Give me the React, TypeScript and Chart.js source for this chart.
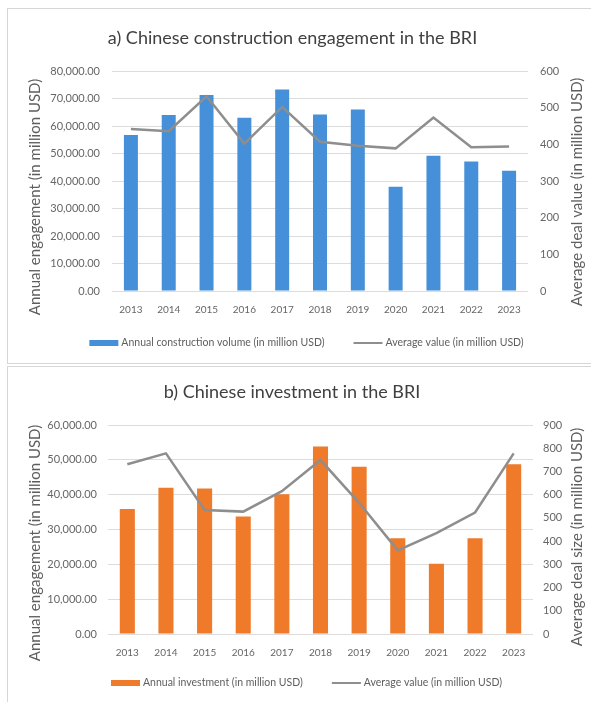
import React, { useEffect, useRef } from 'react';
import { Chart, registerables } from 'chart.js';

Chart.register(...registerables);

// Years on the category axis (shared by both panels)
const years = ['2013', '2014', '2015', '2016', '2017', '2018', '2019', '2020', '2021', '2022', '2023'];

// a) Construction engagement
const constructionVolume = [56700, 64000, 71300, 63000, 73300, 64200, 66000, 37900, 49200, 47100, 43700];
const constructionAvgValue = [442, 436, 531, 402, 502, 407, 396, 389, 473, 392, 394];

// b) Investment
const investmentVolume = [35900, 42000, 41800, 33700, 40100, 53800, 48000, 27500, 20200, 27500, 48700];
const investmentAvgSize = [731, 778, 534, 527, 615, 749, 565, 360, 434, 523, 778];

const FONT = 'Lato, "Open Sans", sans-serif';
const TICK_COLOR = '#666666';
const TEXT_COLOR = '#5e5e5e';
const TITLE_COLOR = '#404040';
const GRID_COLOR = '#dcdcdc';
const LINE_COLOR = '#8e8e8e';

type AxisTitle = { text: string; x: number; y: number };

type DecorOptions = {
  title: string;
  titleX: number;
  titleY: number;
  axisTitles: AxisTitle[];
  legendX: number;
  legendY: number;
};

// Panel heading, rotated axis titles and the legend row, drawn on the chart canvas.
const panelDecor = {
  id: 'panelDecor',
  afterDraw(chart: any, _args: any, opts: DecorOptions) {
    const ctx: CanvasRenderingContext2D = chart.ctx;
    ctx.save();

    ctx.font = `normal 18px ${FONT}`;
    ctx.fillStyle = TITLE_COLOR;
    ctx.textAlign = 'center';
    ctx.textBaseline = 'middle';
    ctx.fillText(opts.title, opts.titleX, opts.titleY);

    ctx.font = `normal 15px ${FONT}`;
    ctx.fillStyle = TEXT_COLOR;
    for (const t of opts.axisTitles) {
      ctx.save();
      ctx.translate(t.x, t.y);
      ctx.rotate(-Math.PI / 2);
      ctx.fillText(t.text, 0, 0);
      ctx.restore();
    }

    const boxW = 29;
    const boxGap = 3;
    const itemGap = 29;
    ctx.font = `normal 10.5px ${FONT}`;
    ctx.textAlign = 'left';
    const datasets = chart.data.datasets;
    const widths = datasets.map((ds: any) => ctx.measureText(ds.label).width);
    const total =
      widths.reduce((s: number, w: number) => s + boxW + boxGap + w, 0) + itemGap * (datasets.length - 1);
    let x = opts.legendX - total / 2;
    const y = opts.legendY;
    datasets.forEach((ds: any, i: number) => {
      if (ds.type === 'bar') {
        ctx.fillStyle = ds.backgroundColor;
        ctx.fillRect(x, y - 3, boxW, 6);
      } else {
        ctx.strokeStyle = ds.borderColor;
        ctx.lineWidth = 2;
        ctx.beginPath();
        ctx.moveTo(x, y);
        ctx.lineTo(x + boxW, y);
        ctx.stroke();
      }
      x += boxW + boxGap;
      ctx.fillStyle = TEXT_COLOR;
      ctx.fillText(ds.label, x, y);
      x += widths[i] + itemGap;
    });

    ctx.restore();
  },
};

type PanelSpec = {
  top: number;
  height: number;
  decor: DecorOptions;
  barLabel: string;
  lineLabel: string;
  barColor: string;
  bars: number[];
  line: number[];
  leftMax: number;
  rightMax: number;
  barPct: number;
  pad: { left: number; right: number; top: number; bottom: number };
  leftW: number;
  rightW: number;
  xH: number;
  leftTickPad: number;
  rightTickPad: number;
};

const fmtThousands = (v: number) =>
  Number(v).toLocaleString('en-US', { minimumFractionDigits: 2, maximumFractionDigits: 2 });

function ChartPanel({ spec }: { spec: PanelSpec }) {
  const ref = useRef<HTMLCanvasElement | null>(null);

  useEffect(() => {
    if (!ref.current) return;
    const chart = new Chart(ref.current, {
      type: 'bar',
      data: {
        labels: years,
        datasets: [
          {
            type: 'bar',
            label: spec.barLabel,
            data: spec.bars,
            backgroundColor: spec.barColor,
            borderWidth: 0,
            yAxisID: 'y',
            order: 2,
            barPercentage: spec.barPct,
            categoryPercentage: 1,
          },
          {
            type: 'line',
            label: spec.lineLabel,
            data: spec.line,
            borderColor: LINE_COLOR,
            backgroundColor: LINE_COLOR,
            borderWidth: 2.5,
            pointRadius: 0,
            tension: 0,
            yAxisID: 'y1',
            order: 1,
          },
        ],
      } as any,
      plugins: [panelDecor],
      options: {
        responsive: false,
        animation: false,
        layout: { padding: spec.pad },
        plugins: {
          tooltip: { enabled: false },
          title: { display: false },
          legend: { display: false },
          panelDecor: spec.decor,
        },
        scales: {
          x: {
            grid: { display: false, drawTicks: false },
            border: { display: false },
            ticks: { color: TICK_COLOR, font: { family: FONT, size: 10 }, padding: 13, maxRotation: 0 },
            afterFit: (s: any) => {
              s.height = spec.xH;
            },
          },
          y: {
            position: 'left',
            min: 0,
            max: spec.leftMax,
            grid: { color: GRID_COLOR, lineWidth: 1, drawTicks: false },
            border: { display: false },
            ticks: {
              stepSize: 10000,
              color: TICK_COLOR,
              font: { family: FONT, size: 11 },
              padding: spec.leftTickPad,
              callback: (v: any) => fmtThousands(v),
            },
            afterFit: (s: any) => {
              s.width = spec.leftW;
            },
          },
          y1: {
            position: 'right',
            min: 0,
            max: spec.rightMax,
            grid: { display: false, drawTicks: false },
            border: { display: false },
            ticks: {
              stepSize: 100,
              color: TICK_COLOR,
              font: { family: FONT, size: 11 },
              padding: spec.rightTickPad,
            },
            afterFit: (s: any) => {
              s.width = spec.rightW;
            },
          },
        },
      } as any,
    });
    return () => chart.destroy();
  }, [spec]);

  return (
    <canvas
      ref={ref}
      width={591}
      height={spec.height}
      style={{ position: 'absolute', left: 0, top: spec.top, width: 591, height: spec.height }}
    />
  );
}

const panelA: PanelSpec = {
  top: 0,
  height: 366,
  decor: {
    title: 'a) Chinese construction engagement in the BRI',
    titleX: 292.5,
    titleY: 38,
    axisTitles: [
      { text: 'Annual engagement (in million USD)', x: 35, y: 197 },
      { text: 'Average deal value (in million USD)', x: 577, y: 192 },
    ],
    legendX: 306.5,
    legendY: 343,
  },
  barLabel: 'Annual construction volume (in million USD)',
  lineLabel: 'Average value (in million USD)',
  barColor: '#4590d8',
  bars: constructionVolume,
  line: constructionAvgValue,
  leftMax: 80000,
  rightMax: 600,
  barPct: 0.37,
  pad: { left: 0, right: 0, top: 71, bottom: 45 },
  leftW: 112,
  rightW: 63,
  xH: 30,
  leftTickPad: 12,
  rightTickPad: 12,
};

const panelB: PanelSpec = {
  top: 366,
  height: 336,
  decor: {
    title: 'b) Chinese investment in the BRI',
    titleX: 292,
    titleY: 26,
    axisTitles: [
      { text: 'Annual engagement (in million USD)', x: 35, y: 177 },
      { text: 'Average deal size (in million USD)', x: 577, y: 171 },
    ],
    legendX: 306.5,
    legendY: 317,
  },
  barLabel: 'Annual investment (in million USD)',
  lineLabel: 'Average value (in million USD)',
  barColor: '#ee7a2a',
  bars: investmentVolume,
  line: investmentAvgSize,
  leftMax: 60000,
  rightMax: 900,
  barPct: 0.39,
  pad: { left: 0, right: 0, top: 59, bottom: 38 },
  leftW: 108,
  rightW: 58,
  xH: 30,
  leftTickPad: 11,
  rightTickPad: 10,
};

export default function App() {
  useEffect(() => {
    document.body.style.margin = '0';
  }, []);

  return (
    <div style={{ position: 'relative', width: 591, height: 702, overflow: 'hidden', background: '#ffffff' }}>
      <div
        style={{
          position: 'absolute',
          left: 7,
          top: 8,
          width: 600,
          height: 356,
          border: '1.5px solid #d6d6d6',
          boxSizing: 'border-box',
        }}
      />
      <div
        style={{
          position: 'absolute',
          left: 7,
          top: 366,
          width: 600,
          height: 400,
          border: '1.5px solid #d6d6d6',
          boxSizing: 'border-box',
        }}
      />
      <ChartPanel spec={panelA} />
      <ChartPanel spec={panelB} />
    </div>
  );
}
